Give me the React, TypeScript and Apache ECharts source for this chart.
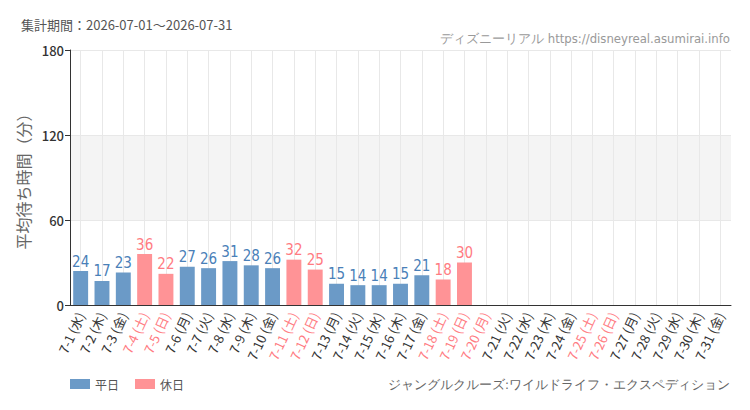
import React, { useEffect, useRef } from "react";
import * as echarts from "echarts";

const categories = [
  "7-1 (水)", "7-2 (木)", "7-3 (金)", "7-4 (土)", "7-5 (日)", "7-6 (月)", "7-7 (火)",
  "7-8 (水)", "7-9 (木)", "7-10 (金)", "7-11 (土)", "7-12 (日)", "7-13 (月)", "7-14 (火)",
  "7-15 (水)", "7-16 (木)", "7-17 (金)", "7-18 (土)", "7-19 (日)", "7-20 (月)", "7-21 (火)",
  "7-22 (水)", "7-23 (木)", "7-24 (金)", "7-25 (土)", "7-26 (日)", "7-27 (月)", "7-28 (火)",
  "7-29 (水)", "7-30 (木)", "7-31 (金)",
];
const holidays = ["7-4", "7-5", "7-11", "7-12", "7-18", "7-19", "7-20", "7-25", "7-26"];
const waitValues: (number | null)[] = [
  24, 17, 23, 36, 22, 27, 26, 31, 28, 26, 32, 25, 15, 14, 14, 15, 21, 18, 30,
  null, null, null, null, null, null, null, null, null, null, null, null,
];
const yTicks = [0, 60, 120, 180];

const BLUE = "#6b9ac7";
const BLUE_TXT = "#4a80b8";
const PINK = "#ff9396";
const PINK_TXT = "#ff7b82";
const NARROW = "'Liberation Sans Narrow', 'DejaVu Sans Condensed', 'Roboto', sans-serif";

const isHoliday = (c: string) => holidays.includes(c.split(" ")[0]);

export default function App() {
  const ref = useRef<HTMLDivElement>(null);
  useEffect(() => {
    if (!ref.current) return;
    const chart = echarts.init(ref.current, null, { renderer: "svg" });
    const weekday = waitValues.map((v, i) => (isHoliday(categories[i]) ? null : v));
    const holiday = waitValues.map((v, i) => (isHoliday(categories[i]) ? v : null));
    chart.setOption({
      animation: false,
      backgroundColor: "#ffffff",
      textStyle: { fontFamily: "'Noto Sans CJK JP', sans-serif" },
      title: [
        {
          text: "集計期間：2026-07-01～2026-07-31",
          left: 21,
          top: 18,
          padding: 0,
          textStyle: { fontSize: 13, fontWeight: "normal", color: "#555", fontFamily: "'Noto Sans CJK JP', sans-serif" },
        },
      ],
      graphic: [
        {
          type: "text",
          right: 20,
          top: 32,
          style: {
            text: "ディズニーリアル https://disneyreal.asumirai.info",
            fill: "#999",
            fontSize: 13,
            fontFamily: NARROW,
          },
        },
        {
          type: "text",
          right: 20,
          top: 378,
          style: {
            text: "ジャングルクルーズ:ワイルドライフ・エクスペディション",
            fill: "#666",
            fontSize: 13,
            fontFamily: NARROW,
          },
        },
      ],
      legend: {
        left: 70,
        top: 378,
        padding: 0,
        itemWidth: 20,
        itemHeight: 10,
        itemGap: 16,
        icon: "rect",
        textStyle: { fontSize: 12, color: "#555" },
        data: ["平日", "休日"],
      },
      grid: { left: 70, right: 19, top: 50, bottom: 105 },
      xAxis: {
        type: "category",
        data: categories,
        axisLine: { lineStyle: { color: "#333" } },
        axisTick: { alignWithLabel: true, length: 5, lineStyle: { color: "#333" } },
        splitLine: { show: true, alignWithLabel: true, lineStyle: { color: "#e8e8e8" } },
        axisLabel: {
          rotate: 65,
          interval: 0,
          fontSize: 13,
          margin: 8,
          color: (v: string) => (isHoliday(v) ? PINK_TXT : "#333"),
        },
      },
      yAxis: {
        type: "value",
        min: yTicks[0],
        max: yTicks[yTicks.length - 1],
        interval: 60,
        name: "平均待ち時間（分）",
        nameLocation: "middle",
        nameGap: 34,
        nameTextStyle: { fontSize: 16, color: "#666" },
        axisLine: { show: true, lineStyle: { color: "#333" } },
        axisTick: { show: true, length: 5, lineStyle: { color: "#333" } },
        axisLabel: { fontSize: 13, color: "#333", fontWeight: 500, margin: 6 },
        splitLine: { show: true, lineStyle: { color: "#e8e8e8" } },
        splitArea: { show: true, areaStyle: { color: ["rgba(0,0,0,0)", "#f4f4f4", "rgba(0,0,0,0)"] } },
      },
      series: [
        {
          name: "平日",
          type: "bar",
          data: weekday,
          barWidth: "70%",
          barGap: "-100%",
          itemStyle: { color: BLUE },
          label: { show: true, position: "top", distance: 2, color: BLUE_TXT, fontSize: 15, fontFamily: NARROW },
        },
        {
          name: "休日",
          type: "bar",
          data: holiday,
          barWidth: "70%",
          itemStyle: { color: PINK },
          label: { show: true, position: "top", distance: 2, color: PINK_TXT, fontSize: 15, fontFamily: NARROW },
        },
      ],
    });
    return () => chart.dispose();
  }, []);
  return <div ref={ref} style={{ width: 750, height: 410, position: "absolute", left: 0, top: 0 }} />;
}
